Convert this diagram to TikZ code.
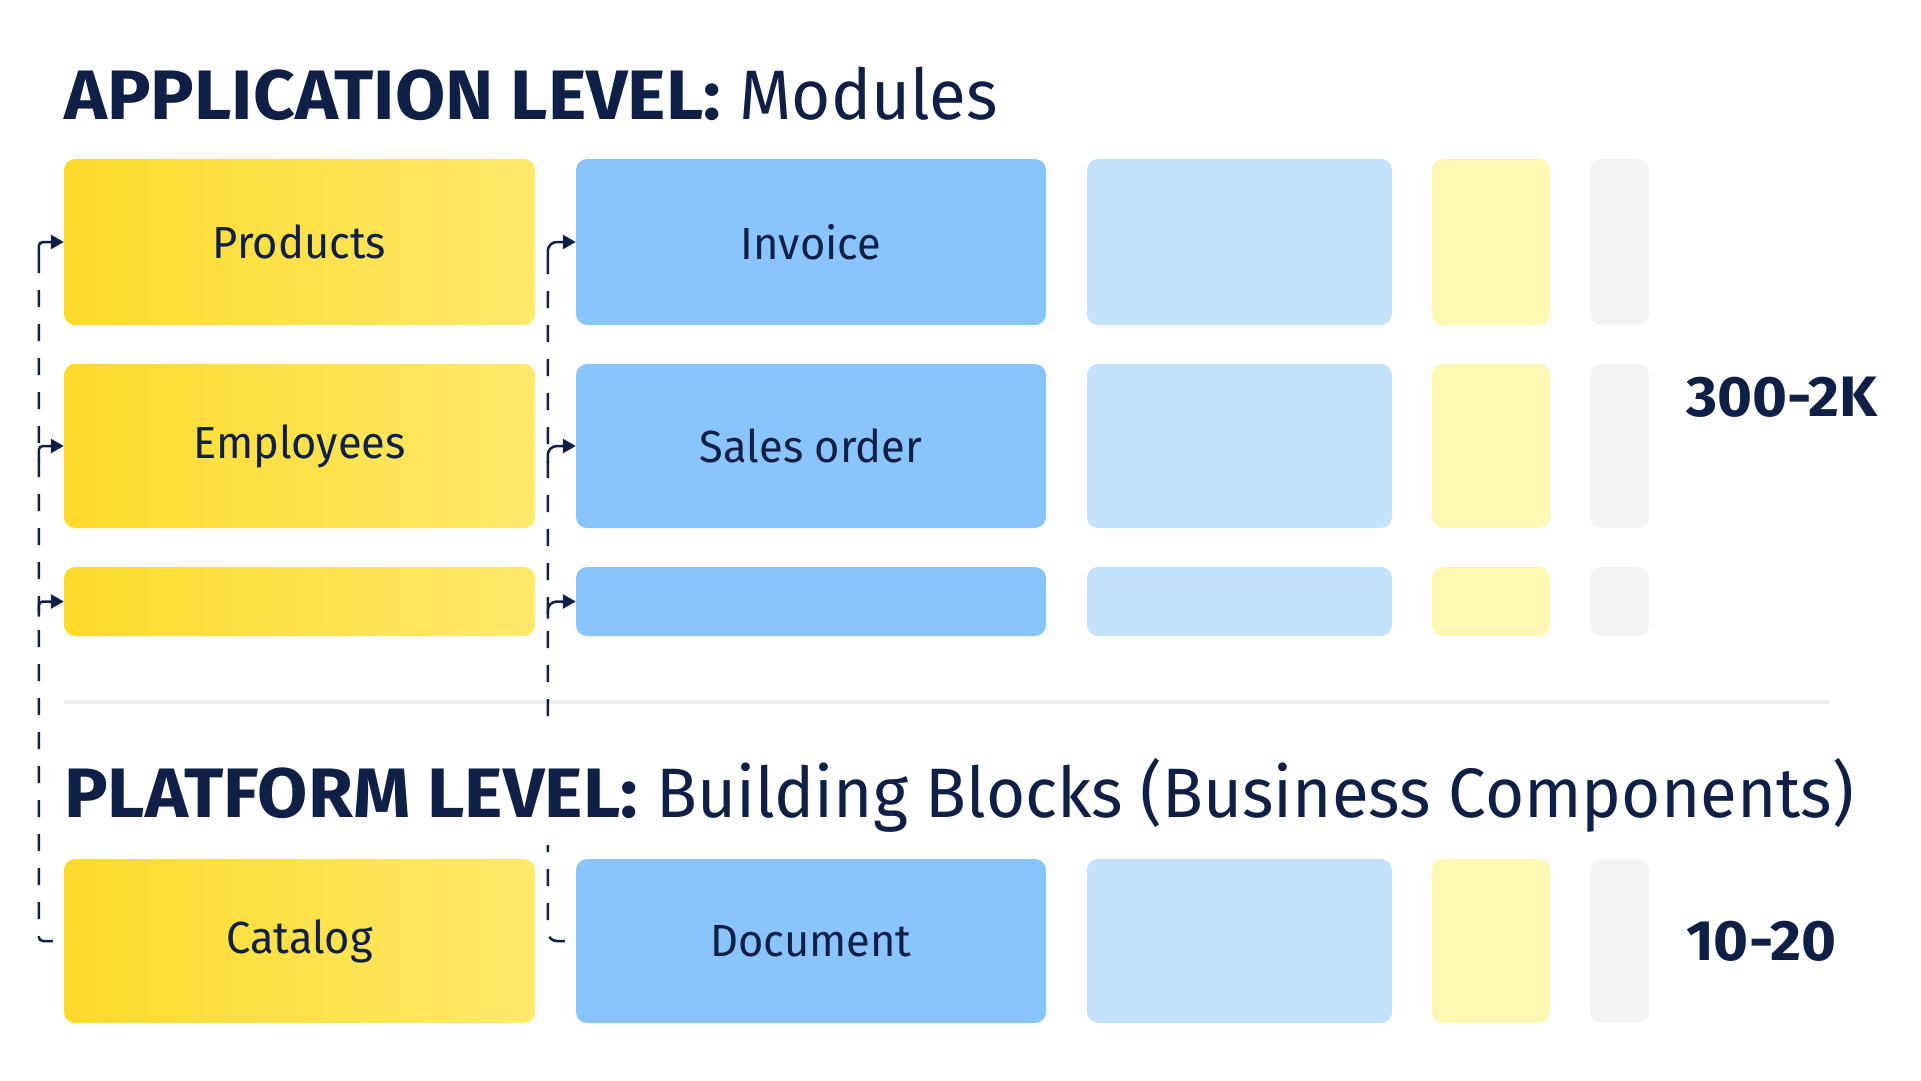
\documentclass[tikz,border=0pt]{standalone}
\usepackage{fontspec}
\setmainfont{Fira Sans}
\newfontfamily\headbold[FakeStretch=1.04]{Fira Sans}
\newfontfamily\headreg[FakeStretch=0.96]{Fira Sans}
\newfontfamily\labelfont[FakeStretch=0.965]{Fira Sans}
\newfontfamily\countfont[FakeStretch=1.05]{Fira Sans}
\usetikzlibrary{arrows.meta}

\definecolor{navy}{HTML}{0F1F45}
\definecolor{ylwL}{HTML}{FDDA2A}
\definecolor{ylwR}{HTML}{FFE96B}
\definecolor{bluebox}{HTML}{8AC4FC}
\definecolor{paleblue}{HTML}{C4E1FD}
\definecolor{paleylw}{HTML}{FFF7B3}
\definecolor{greybox}{HTML}{F3F4F6}
\definecolor{rulegrey}{HTML}{EFEFEF}

\tikzset{
  box/.style={rounded corners=11pt, inner sep=0pt, text=navy,
    font=\labelfont\fontsize{45}{45}\selectfont},
  yellowbox/.style={box, left color=ylwL, right color=ylwR},
  trunk/.style={draw=navy, line width=2.5pt, dash pattern=on 17pt off 17pt, dash phase=23pt},
  hook/.style={draw=navy, line width=2.5pt, -{Triangle[length=13pt,width=14pt]}},
  leveltitle/.style={anchor=base west, inner xsep=0pt, inner ysep=0pt, text=navy,
    font=\fontsize{70}{70}\selectfont},
  count/.style={anchor=west, inner sep=0pt, text=navy,
    font=\countfont\fontsize{57}{57}\selectfont\bfseries},
}

\begin{document}
\begin{tikzpicture}[x=1pt, y=-1pt]
  \useasboundingbox (0,0) rectangle (1921,1080);

  % application level, column 1 and 2
  \node[yellowbox, minimum width=471pt, minimum height=166pt] (products) at (299.5,242) {Products};
  \node[yellowbox, minimum width=471pt, minimum height=164pt] (employees) at (299.5,446) {Employees};
  \node[yellowbox, minimum width=471pt, minimum height=69pt] (moremods) at (299.5,601.5) {};
  \node[box, fill=bluebox, minimum width=470pt, minimum height=166pt] (invoice) at (811,242) {Invoice};
  \node[box, fill=bluebox, minimum width=470pt, minimum height=164pt] (salesorder) at (811,446) {Sales order};
  \node[box, fill=bluebox, minimum width=470pt, minimum height=69pt] (moreorders) at (811,601.5) {};

  % the faded columns
  \foreach \r/\yc/\h in {1/242/166, 2/446/164, 3/601.5/69, 4/941/164} {
    \node[box, fill=paleblue, minimum width=305pt, minimum height=\h pt] (pb\r) at (1239.5,\yc) {};
    \node[box, fill=paleylw, minimum width=118pt, minimum height=\h pt] (py\r) at (1491,\yc) {};
    \node[box, fill=greybox, minimum width=59pt, minimum height=\h pt] (gr\r) at (1619.5,\yc) {};
  }

  % platform level
  \node[yellowbox, minimum width=471pt, minimum height=164pt] (catalog) at (299.5,941) {Catalog};
  \node[box, fill=bluebox, minimum width=470pt, minimum height=164pt] (document) at (811,941) {Document};

  % counts
  \node[count] (appcount) at (1686,397) {300-2K};
  \node[count] (platcount) at (1686,941) {10-20};

  % separator
  \draw[rulegrey, line width=4pt] (64,702) -- (1829,702);

  % hooks into the modules
  \foreach \m in {products, employees, moremods}
    \draw[hook, rounded corners=4pt] ([shift={(-25,15)}]\m.west) coordinate (\m-tap) |- (\m.west);
  \foreach \m in {invoice, salesorder, moreorders}
    \draw[hook, rounded corners=9pt] ([shift={(-28,17)}]\m.west) coordinate (\m-tap) |- (\m.west);

  % dashed trunks from the building blocks
  \draw[trunk, rounded corners=4pt] (catalog.west) -| (products-tap);
  \draw[trunk, rounded corners=9pt] (document.west) -| (invoice-tap);

  % titles
  \node[leveltitle] (apptitle) at (64,119) {{\headbold\bfseries APPLICATION LEVEL:} {\headreg Modules}};
  \node[leveltitle, fill=white, text height=84pt, text depth=28pt] (plattitle) at (64,817)
    {{\headbold\bfseries PLATFORM LEVEL:} {\headreg Building Blocks (Business Components)}};
\end{tikzpicture}
\end{document}
